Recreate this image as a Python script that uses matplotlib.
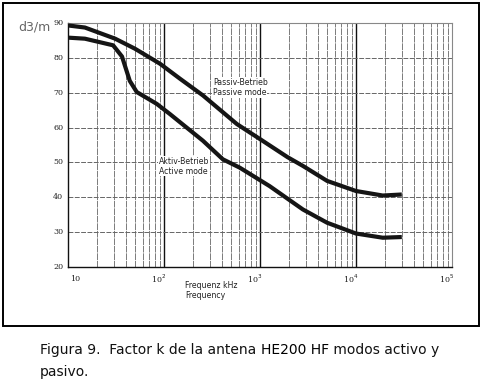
import matplotlib.pyplot as plt
from matplotlib.patches import Rectangle

# values
freq_passive = [10, 15, 31, 50, 91, 147, 255, 575, 1000, 1940, 2800, 5000, 10000, 19000, 30000]
k_passive = [89.3, 88.7, 85.5, 82.6, 78.3, 74.0, 69.2, 61.0, 56.7, 51.5, 49.0, 44.7, 41.8, 40.5, 40.8]

freq_active = [10, 15, 29.5, 36.5, 44, 52, 84, 115, 255, 410, 615, 1260, 2800, 5000, 10000, 19000, 30000]
k_active = [85.8, 85.5, 83.6, 80.4, 73.4, 70.2, 66.8, 63.9, 56.2, 50.9, 48.5, 43.2, 36.5, 32.7, 29.6, 28.4, 28.6]

y_ticks = [20, 30, 40, 50, 60, 70, 80, 90]
x_decades = [10, 100, 1000, 10000, 100000]
x_labels = ["10", "10$^2$", "10$^3$", "10$^4$", "10$^5$"]

W, H = 484, 381
fig = plt.figure(figsize=(W / 100, H / 100), dpi=100)

# outer frame around the figure
fig.patches.append(Rectangle((3 / W, 1 - 326 / H), 476 / W, 323 / H,
                             transform=fig.transFigure, fill=False,
                             edgecolor="black", linewidth=1.4))

ax = fig.add_axes([68 / W, 1 - 267 / H, (452 - 68) / W, (267 - 23) / H])
ax.set_xscale("log")
ax.set_xlim(10, 1e5)
ax.set_ylim(20, 90)

# grid: minor verticals, darker decade lines, dashed horizontals
for dec in [10, 100, 1000, 10000]:
    for m in range(2, 10):
        ax.axvline(dec * m, color="#666666", lw=0.6, ls=(0, (8, 1)), zorder=1)
for d in [100, 1000, 10000]:
    ax.axvline(d, color="#111111", lw=1.0, zorder=1)
for v in y_ticks[1:-1]:
    ax.axhline(v, color="#666666", lw=0.7, ls=(0, (5, 1.5)), zorder=1)

ax.plot(freq_passive, k_passive, color="#151515", lw=3.0, solid_capstyle="butt", zorder=3)
ax.plot(freq_active, k_active, color="#151515", lw=3.0, solid_capstyle="butt", zorder=3)

ax.set_xticks([])
ax.set_yticks([])
ax.minorticks_off()
for s in ["left", "bottom"]:
    ax.spines[s].set_color("#111111")
    ax.spines[s].set_linewidth(1.0)
for s in ["top", "right"]:
    ax.spines[s].set_color("#888888")
    ax.spines[s].set_linewidth(0.8)

tick_font = dict(family="DejaVu Serif", fontsize=5.8, color="#222222")
for v in y_ticks:
    ax.text(-0.012, (v - 20) / 70, str(v), transform=ax.transAxes,
            ha="right", va="center", **tick_font)
x_pos = [11.8, 88, 890, 8900, 88000]
for x, lab in zip(x_pos, x_labels):
    ax.text(x, 16.6, lab, ha="center", va="center", **tick_font)

lab_font = dict(family="DejaVu Sans", fontsize=5.6, color="#222222")
bbox = dict(facecolor="white", edgecolor="none", pad=0.6)
ax.text(325, 72.9, "Passiv-Betrieb", ha="left", va="center", bbox=bbox, zorder=4, **lab_font)
ax.text(325, 70.0, "Passive mode", ha="left", va="center", bbox=bbox, zorder=4, **lab_font)
ax.text(88, 50.4, "Aktiv-Betrieb", ha="left", va="center", bbox=bbox, zorder=4, **lab_font)
ax.text(88, 47.5, "Active mode", ha="left", va="center", bbox=bbox, zorder=4, **lab_font)

fig.text(185 / W, 1 - 285 / H, "Frequenz kHz", ha="left", va="center", **lab_font)
fig.text(185 / W, 1 - 295 / H, "Frequency", ha="left", va="center", **lab_font)

fig.text(18 / W, 1 - 27 / H, "d3/m", ha="left", va="center",
         family="DejaVu Sans", fontsize=9, color="#666666")

# caption below the frame
cap = dict(family="DejaVu Sans", fontsize=10, color="#111111")
t1 = fig.text(40 / W, 1 - 350 / H, "Figura 9.  Factor k de la antena ", ha="left", va="center", **cap)
t2 = ax.annotate("HE200 HF", xy=(1, 0), xycoords=t1, ha="left", va="bottom",
                 annotation_clip=False, family="DejaVu Sans", fontsize=10,
                 color="black", path_effects=[])
ax.annotate(" modos activo y", xy=(1, 0), xycoords=t2, ha="left", va="bottom",
            annotation_clip=False, **cap)
fig.text(40 / W, 1 - 372 / H, "pasivo.", ha="left", va="center", **cap)

fig.savefig("out.png", dpi=100)
